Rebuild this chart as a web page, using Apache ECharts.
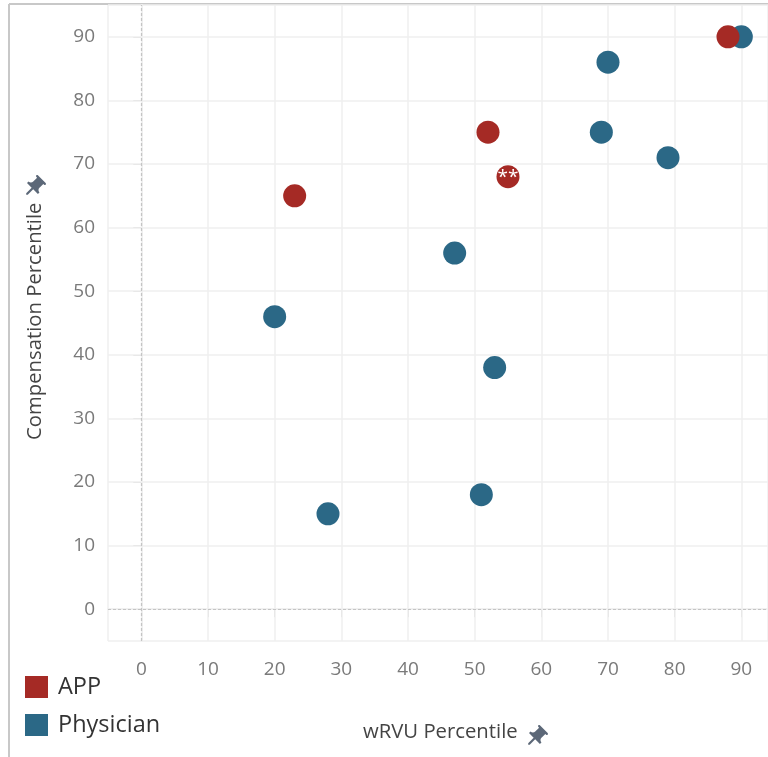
<!DOCTYPE html>
<html>
<head>
<meta charset="utf-8">
<script src="https://cdn.jsdelivr.net/npm/echarts@6/dist/echarts.min.js"></script>
<style>
  html, body { margin: 0; padding: 0; background: #fff; }
  #chart { width: 768px; height: 757px; }
</style>
</head>
<body>
<div id="chart"></div>
<script>
// Percentile pairs: [wRVU percentile, compensation percentile]
const appPoints = [[23, 65], [52, 75], [55, 68], [88, 90]];
const appNotes = ['', '', '**', ''];
const physicianPoints = [
  [90, 90], [70, 86], [69, 75], [79, 71], [47, 56],
  [20, 46], [53, 38], [51, 18], [28, 15]
];
const seriesNames = ['APP', 'Physician'];
const xTitle = 'wRVU Percentile';
const yTitle = 'Compensation Percentile';

const RED = '#a52a25';
const BLUE = '#2b6886';
const FONT = '"Open Sans", "Noto Sans", sans-serif';

// Push pin outline (24x24 box), registered as a custom graphic shape
const PIN = 'M16,9V4l1,0c0.55,0,1-0.45,1-1v0c0-0.55-0.45-1-1-1H7C6.45,2,6,2.45,6,3v0c0,0.55,0.45,1,1,1l1,0v5c0,1.66-1.34,3-3,3h0v2h5.97v7l1,1l1-1v-7H19v-2h0C17.34,12,16,10.66,16,9z';
echarts.graphic.registerShape('pushPin', echarts.graphic.extendPath(PIN, {}));

const chart = echarts.init(document.getElementById('chart'), null, { renderer: 'canvas' });

const axisCommon = {
  type: 'value',
  splitNumber: 10,
  axisLine: { show: true, lineStyle: { color: '#f0f0f0', width: 2 } },
  axisTick: { show: true, length: 8, lineStyle: { color: '#e8e8e8', width: 1 } },
  splitLine: { show: true, lineStyle: { color: '#efefef', width: 1.5 } },
  axisLabel: {
    color: '#7a7a7a', fontSize: 19, fontFamily: FONT,
    showMinLabel: false, showMaxLabel: false
  }
};

chart.setOption({
  animation: false,
  backgroundColor: '#fff',
  grid: { left: 108, right: 0, top: 5, bottom: 116, containLabel: false },
  xAxis: Object.assign({}, axisCommon, {
    min: -5, max: 94,
    axisLabel: Object.assign({}, axisCommon.axisLabel, { margin: 19 })
  }),
  yAxis: Object.assign({}, axisCommon, {
    min: -5, max: 95,
    axisLabel: Object.assign({}, axisCommon.axisLabel, { margin: 13 })
  }),
  legend: {
    data: seriesNames,
    orient: 'vertical',
    left: 25, top: 675,
    padding: 0,
    itemWidth: 23, itemHeight: 22, itemGap: 14,
    icon: 'rect',
    textStyle: { color: '#333', fontSize: 23.5, fontFamily: FONT, padding: [2, 0, 0, 5] }
  },
  series: [
    {
      name: 'Physician',
      type: 'scatter',
      data: physicianPoints,
      symbolSize: 23,
      itemStyle: { color: BLUE, opacity: 1 },
      z: 3,
      markLine: {
        silent: true,
        symbol: 'none',
        label: { show: false },
        lineStyle: { color: '#c4c4c4', type: [3, 2], width: 1.2 },
        data: [{ xAxis: 0 }, { yAxis: 0 }],
        z: 1
      }
    },
    {
      name: 'APP',
      type: 'scatter',
      data: appPoints.map((p, i) => ({ value: p, note: appNotes[i] })),
      symbolSize: 23,
      itemStyle: { color: RED, opacity: 1 },
      z: 4,
      label: {
        show: true,
        position: 'inside',
        offset: [0, 1],
        color: '#fff',
        fontSize: 19,
        fontFamily: FONT,
        formatter: (p) => p.data.note
      }
    }
  ],
  graphic: [
    // frame
    { type: 'line', shape: { x1: 9, y1: 4, x2: 9, y2: 757 }, style: { stroke: '#c8c8c8', lineWidth: 2 } },
    { type: 'line', shape: { x1: 9, y1: 4, x2: 768, y2: 4 }, style: { stroke: '#c8c8c8', lineWidth: 2 } },
    // axis titles
    {
      type: 'text', x: 363, y: 722,
      style: { text: xTitle, fill: '#444', fontSize: 20.3, fontFamily: FONT }
    },
    {
      type: 'pushPin', x: 524, y: 725, scaleX: 1.1, scaleY: 1.1,
      rotation: -Math.PI / 4, originX: 12, originY: 12,
      style: { fill: '#5c6878' }
    },
    {
      type: 'text', x: 25, y: 440, rotation: Math.PI / 2,
      style: { text: yTitle, fill: '#444', fontSize: 20.3, fontFamily: FONT, verticalAlign: 'top' }
    },
    {
      type: 'pushPin', x: 22, y: 175, scaleX: 1.1, scaleY: 1.1,
      rotation: -Math.PI / 4, originX: 12, originY: 12,
      style: { fill: '#5c6878' }
    }
  ]
});
</script>
</body>
</html>
